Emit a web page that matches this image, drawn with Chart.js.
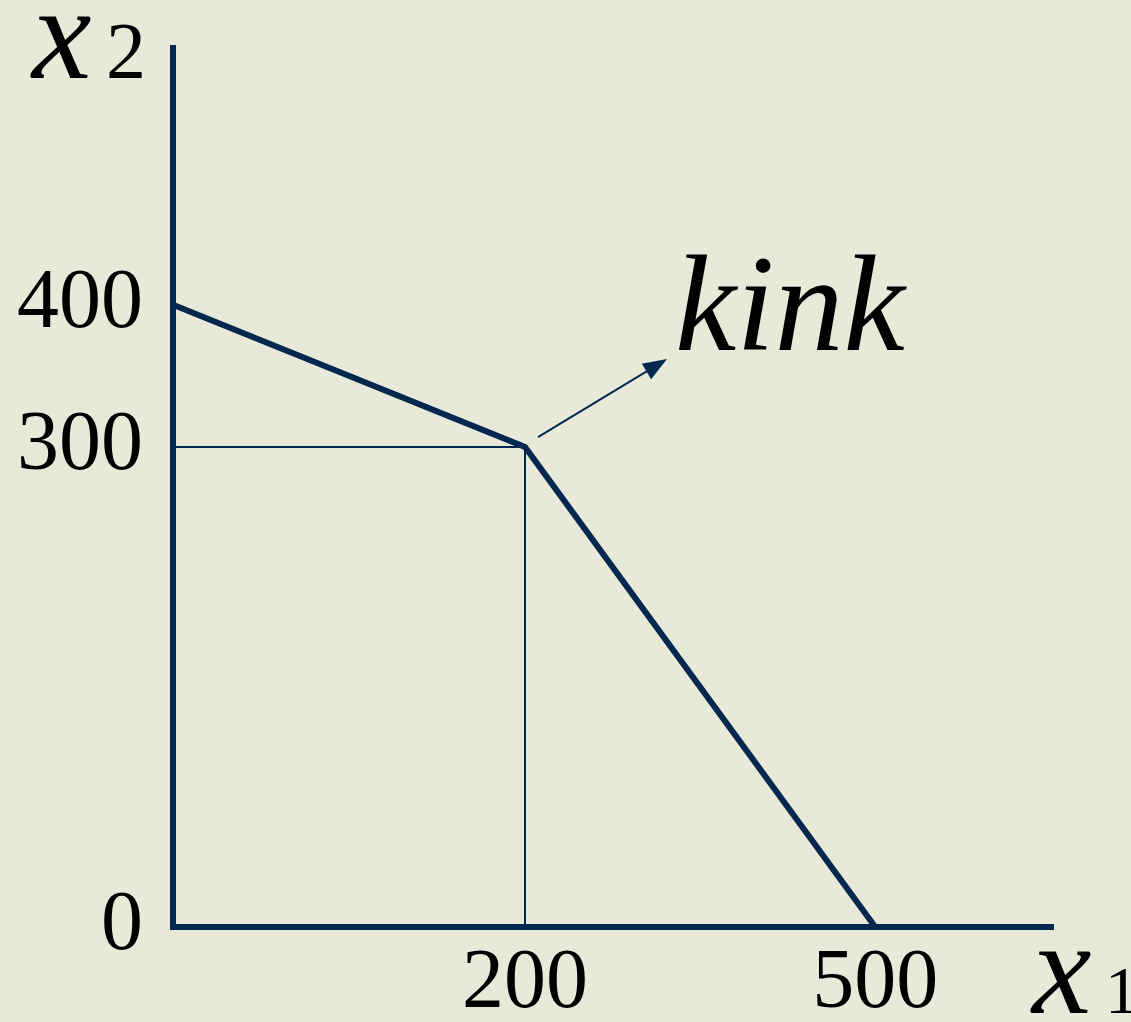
<!DOCTYPE html>
<html>
<head>
<meta charset="utf-8">
<title>Kinked budget line</title>
<script src="https://cdn.jsdelivr.net/npm/chart.js@4.4.1/dist/chart.umd.min.js"></script>
<style>
    html, body { margin: 0; padding: 0; background: #e9e9d9; }
    #wrap { width: 1131px; height: 1022px; position: relative; }
</style>
</head>
<body>
<div id="wrap"><canvas id="kinkChart"></canvas></div>
<script>
// Data
const x1Values = [0, 200, 500];      // good 1 (horizontal)
const x2Values = [400, 300, 0];      // good 2 (vertical)
const xTickValues = [200, 500];
const yTickValues = [0, 300, 400];
const kinkIndex = 1;
const kinkLabel = 'kink';

const navy = '#03284f';
const serif = "'Liberation Serif', 'Times New Roman', serif";

// The drawing is schematic: each axis is linear between a few anchor values
class PiecewiseScale extends Chart.LinearScale {
    _toDecimal(value) {
        const stops = this.options.stops, marks = this.options.marks;
        if (value <= stops[0]) return marks[0];
        for (let i = 1; i < stops.length; i++) {
            if (value <= stops[i]) {
                const t = (value - stops[i - 1]) / (stops[i] - stops[i - 1]);
                return marks[i - 1] + t * (marks[i] - marks[i - 1]);
            }
        }
        return marks[marks.length - 1];
    }
    getPixelForValue(value) {
        return this.getPixelForDecimal(this._toDecimal(value));
    }
    getValueForPixel(pixel) {
        const stops = this.options.stops, marks = this.options.marks;
        const d = this.getDecimalForPixel(pixel);
        for (let i = 1; i < marks.length; i++) {
            if (d <= marks[i]) {
                const t = (d - marks[i - 1]) / (marks[i] - marks[i - 1]);
                return stops[i - 1] + t * (stops[i] - stops[i - 1]);
            }
        }
        return stops[stops.length - 1];
    }
}
PiecewiseScale.id = 'piecewise';
PiecewiseScale.defaults = {};
Chart.register(PiecewiseScale);

const budgetPoints = x1Values.map((x, i) => ({ x: x, y: x2Values[i] }));
const kinkX = x1Values[kinkIndex], kinkY = x2Values[kinkIndex];
const guidePoints = [
    { x: 0, y: kinkY },
    { x: kinkX, y: kinkY },
    { x: kinkX, y: 0 }
];

// arrow, kink label and axis names
const annotations = {
    id: 'annotations',
    afterDatasetsDraw(chart) {
        const ctx = chart.ctx;
        const px = chart.scales.x.getPixelForValue(kinkX);
        const py = chart.scales.y.getPixelForValue(kinkY);
        ctx.save();

        // arrow from the kink towards the label
        const sx = px + 13, sy = py - 10;
        const ex = px + 142, ey = py - 88;
        const ang = Math.atan2(ey - sy, ex - sx);
        ctx.strokeStyle = navy;
        ctx.fillStyle = navy;
        ctx.lineWidth = 2;
        ctx.beginPath();
        ctx.moveTo(sx, sy);
        ctx.lineTo(ex - 18 * Math.cos(ang), ey - 18 * Math.sin(ang));
        ctx.stroke();
        ctx.beginPath();
        ctx.moveTo(ex, ey);
        ctx.lineTo(ex - 24 * Math.cos(ang) + 9 * Math.sin(ang), ey - 24 * Math.sin(ang) - 9 * Math.cos(ang));
        ctx.lineTo(ex - 24 * Math.cos(ang) - 9 * Math.sin(ang), ey - 24 * Math.sin(ang) + 9 * Math.cos(ang));
        ctx.closePath();
        ctx.fill();

        ctx.fillStyle = '#000';
        ctx.textBaseline = 'alphabetic';
        ctx.textAlign = 'left';
        ctx.font = 'italic 138px ' + serif;
        ctx.fillText(kinkLabel, px + 150, py - 97);

        // axis names
        const area = chart.chartArea;
        ctx.font = 'italic 134px ' + serif;
        ctx.fillText('x', area.left - 141, area.top + 30);
        ctx.font = '80px ' + serif;
        ctx.fillText('2', area.left - 67, area.top + 30);

        ctx.font = 'italic 134px ' + serif;
        ctx.fillText('x', area.right - 21, area.bottom + 86);
        ctx.font = '68px ' + serif;
        ctx.fillText('1', area.right + 52, area.bottom + 86);
        ctx.restore();
    }
};

new Chart(document.getElementById('kinkChart'), {
    type: 'line',
    data: {
        datasets: [
            {
                label: 'budget line',
                data: budgetPoints,
                borderColor: navy,
                borderWidth: 6,
                pointRadius: 0,
                tension: 0,
                clip: false
            },
            {
                label: 'guides',
                data: guidePoints,
                borderColor: navy,
                borderWidth: 2,
                pointRadius: 0,
                tension: 0,
                clip: false
            }
        ]
    },
    options: {
        responsive: true,
        maintainAspectRatio: false,
        animation: false,
        events: [],
        layout: { padding: { left: 0, top: 48, right: 78, bottom: 0 } },
        plugins: {
            legend: { display: false },
            tooltip: { enabled: false }
        },
        scales: {
            x: {
                type: 'piecewise',
                min: 0,
                max: 600,
                stops: [0, 200, 500, 600],
                marks: [0, 0.4, 0.798, 1],
                afterBuildTicks: s => { s.ticks = xTickValues.map(v => ({ value: v })); },
                afterFit: s => { s.height = 95; s.paddingLeft = 0; s.paddingRight = 0; },
                grid: { display: false, drawTicks: false },
                border: { display: true, color: navy, width: 6 },
                ticks: {
                    color: '#000',
                    padding: 8,
                    maxRotation: 0,
                    autoSkip: false,
                    font: { family: serif, size: 84 }
                }
            },
            y: {
                type: 'piecewise',
                min: 0,
                max: 600,
                stops: [0, 300, 400, 600],
                marks: [0, 0.546, 0.708, 1],
                afterBuildTicks: s => { s.ticks = yTickValues.map(v => ({ value: v })); },
                afterFit: s => { s.width = 173; s.paddingTop = 0; s.paddingBottom = 0; },
                grid: { display: false, drawTicks: false },
                border: { display: true, color: navy, width: 6 },
                ticks: {
                    color: '#000',
                    padding: 30,
                    autoSkip: false,
                    font: { family: serif, size: 84 }
                }
            }
        }
    },
    plugins: [annotations]
});
</script>
</body>
</html>
